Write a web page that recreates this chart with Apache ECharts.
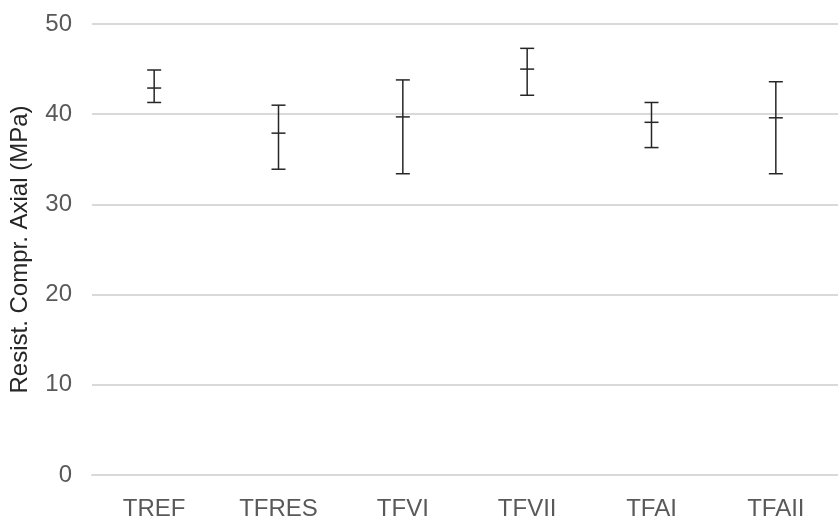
<!DOCTYPE html>
<html>
<head>
<meta charset="utf-8">
<style>
  html, body { margin: 0; padding: 0; background: #ffffff; }
  #chart { width: 838px; height: 521px; }
</style>
<script src="https://cdn.jsdelivr.net/npm/echarts@6/dist/echarts.min.js"></script>
</head>
<body>
<div id="chart"></div>
<script>
// Mixes tested
const categories = ['TREF', 'TFRES', 'TFVI', 'TFVII', 'TFAI', 'TFAII'];
// Mean axial compressive strength (MPa)
const means = [42.9, 37.9, 39.7, 45.0, 39.1, 39.6];
// Lower and upper ends of each error bar (MPa)
const lows  = [41.3, 33.9, 33.4, 42.1, 36.3, 33.4];
const highs = [44.9, 41.0, 43.8, 47.3, 41.3, 43.6];
// Value axis ticks
const yTicks = [0, 10, 20, 30, 40, 50];

const barData = categories.map((c, i) => [i, lows[i], means[i], highs[i]]);

const FONT = '"Liberation Sans", Arial, sans-serif';
const CAP = 7;

function renderErrorBar(params, api) {
  const i = api.value(0);
  const lo = api.coord([i, api.value(1)]);
  const mid = api.coord([i, api.value(2)]);
  const hi = api.coord([i, api.value(3)]);
  const style = { stroke: '#262626', lineWidth: 1.5 };
  const seg = (x1, y1, x2, y2) => ({ type: 'line', shape: { x1, y1, x2, y2 }, style });
  return {
    type: 'group',
    children: [
      seg(hi[0], hi[1], lo[0], lo[1]),
      seg(hi[0] - CAP, hi[1], hi[0] + CAP, hi[1]),
      seg(lo[0] - CAP, lo[1], lo[0] + CAP, lo[1]),
      seg(mid[0] - CAP, mid[1], mid[0] + CAP, mid[1])
    ]
  };
}

const chart = echarts.init(document.getElementById('chart'), null, { renderer: 'canvas' });
chart.setOption({
  animation: false,
  backgroundColor: '#ffffff',
  grid: { left: 92, right: -17, top: 24, bottom: 46, containLabel: false },
  xAxis: {
    type: 'category',
    data: categories,
    boundaryGap: true,
    axisLine: { show: true, lineStyle: { color: '#d9d9d9', width: 2 } },
    axisTick: { show: false },
    axisLabel: { color: '#595959', fontFamily: FONT, fontSize: 24, margin: 22 }
  },
  yAxis: {
    type: 'value',
    min: yTicks[0],
    max: yTicks[yTicks.length - 1],
    interval: 10,
    name: 'Resist. Compr. Axial (MPa)',
    nameLocation: 'middle',
    nameRotate: 90,
    nameGap: 60,
    nameTextStyle: { color: '#262626', fontFamily: FONT, fontSize: 24 },
    axisLine: { show: false },
    axisTick: { show: false },
    axisLabel: { color: '#595959', fontFamily: FONT, fontSize: 24, margin: 20 },
    splitLine: { show: true, lineStyle: { color: '#d9d9d9', width: 2 } }
  },
  series: [{
    type: 'custom',
    renderItem: renderErrorBar,
    data: barData,
    encode: { x: 0, y: [1, 2, 3] },
    silent: true
  }]
});
</script>
</body>
</html>
